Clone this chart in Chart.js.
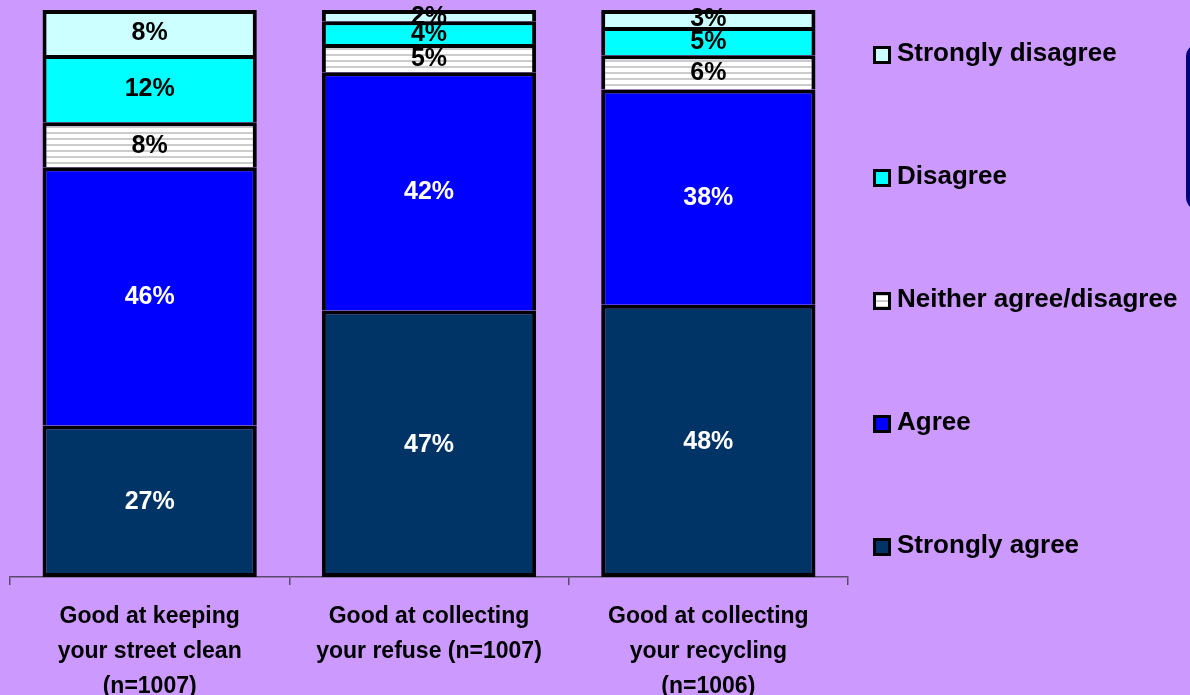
<!DOCTYPE html>
<html>
<head>
<meta charset="utf-8">
<script src="https://cdn.jsdelivr.net/npm/chart.js@4.4.0/dist/chart.umd.min.js"></script>
<style>
  body { margin: 0; background: #CC99FF; overflow: hidden; }
  #wrap { position: relative; width: 1190px; height: 695px; }
  #navybox { position: absolute; left: 1186px; top: 43px; width: 40px; height: 160px;
             border: 4px solid #000080; border-radius: 14px; background: #CC99FF; }
</style>
</head>
<body>
<div id="wrap">
  <canvas id="myChart" width="1190" height="695"></canvas>
  <div id="navybox"></div>
</div>
<script>
// categories and series (percent, as printed on the bars)
const categories = [
  ['Good at keeping', 'your street clean', '(n=1007)'],
  ['Good at collecting', 'your refuse (n=1007)'],
  ['Good at collecting', 'your recycling', '(n=1006)']
];
const stronglyAgree = [27, 47, 48];
const agree = [46, 42, 38];
const neither = [8, 5, 6];
const disagree = [12, 4, 5];
const stronglyDisagree = [8, 2, 3];

const FONT = '"Liberation Sans", Arial, sans-serif';

// white with grey horizontal lines for "Neither"
function makeStripes() {
  const c = document.createElement('canvas');
  c.width = 8; c.height = 6;
  const g = c.getContext('2d');
  g.fillStyle = '#ffffff';
  g.fillRect(0, 0, 8, 6);
  g.fillStyle = '#cccccc';
  g.fillRect(0, 0, 8, 2);
  return g.createPattern(c, 'repeat');
}
const stripes = makeStripes();

// 100% stacked: each bar is scaled to its own total
const series = [stronglyAgree, agree, neither, disagree, stronglyDisagree];
const totals = categories.map((c, i) => series.reduce((s, arr) => s + arr[i], 0));
const pct = arr => arr.map((v, i) => v / totals[i] * 100);

const sets = [
  { label: 'Strongly agree', raw: stronglyAgree, color: '#003366', text: '#ffffff' },
  { label: 'Agree', raw: agree, color: '#0000FF', text: '#ffffff' },
  { label: 'Neither agree/disagree', raw: neither, color: stripes, text: '#000000' },
  { label: 'Disagree', raw: disagree, color: '#00FFFF', text: '#000000' },
  { label: 'Strongly disagree', raw: stronglyDisagree, color: '#CCFFFF', text: '#000000' }
];

// values printed in the middle of every segment
const barLabels = {
  id: 'barLabels',
  afterDatasetsDraw(chart) {
    const ctx = chart.ctx;
    ctx.save();
    ctx.font = 'bold 25px ' + FONT;
    ctx.textAlign = 'center';
    ctx.textBaseline = 'middle';
    chart.data.datasets.forEach((ds, di) => {
      chart.getDatasetMeta(di).data.forEach((bar, i) => {
        const p = bar.getProps(['x', 'y', 'base'], true);
        ctx.fillStyle = sets[di].text;
        ctx.fillText(sets[di].raw[i] + '%', p.x, (p.y + p.base) / 2 + 1);
      });
    });
    ctx.restore();
  }
};

// legend on the right, top item = top segment
const sideLegend = {
  id: 'sideLegend',
  afterDraw(chart) {
    const ctx = chart.ctx;
    const area = chart.chartArea;
    const x = area.right + 25;
    ctx.save();
    ctx.font = 'bold 26px ' + FONT;
    ctx.textBaseline = 'middle';
    ctx.textAlign = 'left';
    for (let k = 0; k < sets.length; k++) {
      const s = sets[sets.length - 1 - k];
      const cy = area.top + 45 + k * 123;
      ctx.fillStyle = '#000';
      ctx.fillRect(x, cy - 9, 18, 18);
      ctx.fillStyle = s.color;
      ctx.fillRect(x + 3, cy - 6, 12, 12);
      ctx.fillStyle = '#000';
      ctx.fillText(s.label, x + 24, cy - 1);
    }
    ctx.restore();
  }
};

const ctx = document.getElementById('myChart');
const chart = new Chart(ctx, {
  type: 'bar',
  data: {
    labels: categories,
    datasets: sets.map((s, i) => ({
      label: s.label,
      data: pct(s.raw),
      backgroundColor: s.color,
      borderColor: '#000000',
      borderWidth: 4,
      inflateAmount: 0,
      borderSkipped: i === 0 ? false : 'start',
      categoryPercentage: 1,
      barPercentage: 0.767
    }))
  },
  options: {
    responsive: false,
    animation: false,
    layout: { padding: { left: 10, right: 342, top: 10, bottom: 0 } },
    plugins: {
      legend: { display: false },
      tooltip: { enabled: false }
    },
    scales: {
      x: {
        stacked: true,
        afterFit(scale) { scale.height = 118; },
        grid: {
          display: true,
          drawOnChartArea: false,
          drawTicks: true,
          tickLength: 8,
          color: '#5a4a6a',
          lineWidth: 1.5,
          offset: true
        },
        border: { display: true, color: '#5a4a6a', width: 1.5 },
        ticks: {
          color: '#000000',
          font: { family: FONT, size: 23, weight: 'bold', lineHeight: 1.52 },
          padding: 14,
          maxRotation: 0,
          autoSkip: false
        }
      },
      y: {
        stacked: true,
        display: false,
        min: 0,
        max: 100
      }
    }
  },
  plugins: [barLabels, sideLegend]
});
</script>
</body>
</html>
